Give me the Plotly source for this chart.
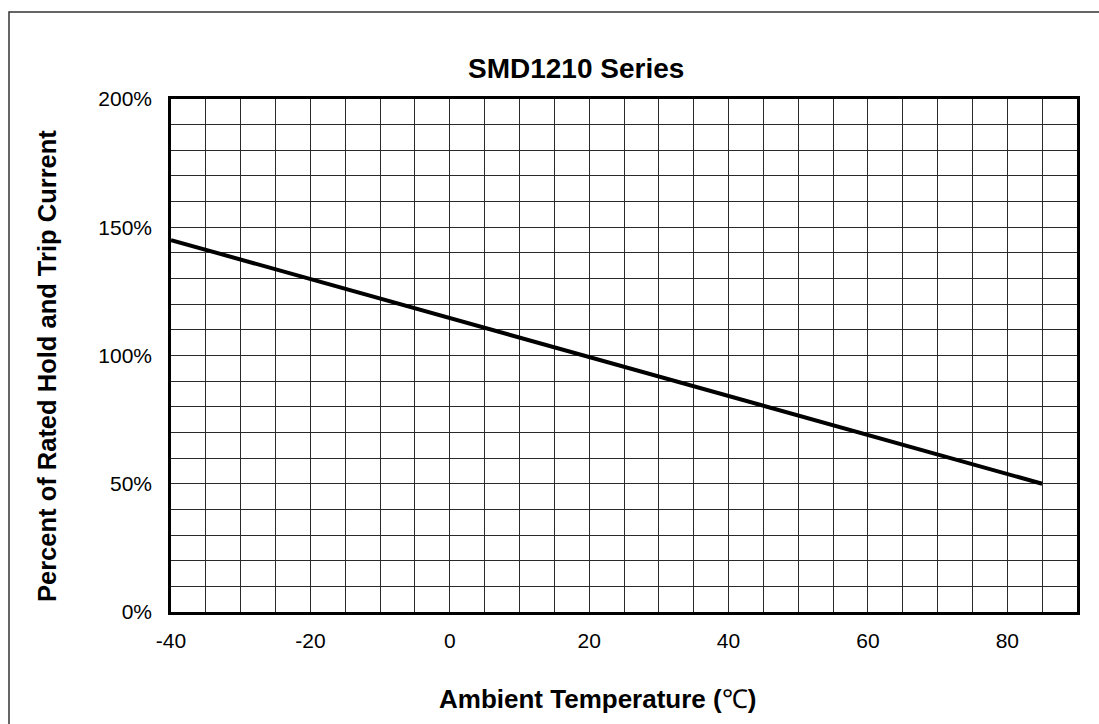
import plotly.graph_objects as go

temps = [-40, 85]
percent = [145, 50]
x_ticks = [-40, -20, 0, 20, 40, 60, 80]
x_tick_labels = ["-40", "-20", "0", "20", "40", "60", "80"]
y_ticks = [0, 50, 100, 150, 200]
y_tick_labels = ["0%", "50%", "100%", "150%", "200%"]

W, H = 1099, 724
L, R, T, B = 171, 1077, 99, 612
pw, ph = R - L, B - T

def px(xp):
    return (xp - L) / pw

def py(yp):
    return (B - yp) / ph

fig = go.Figure()
fig.add_trace(go.Scatter(x=temps, y=percent, mode="lines",
                         line=dict(color="black", width=4), showlegend=False))

font = "Liberation Sans, Arial, sans-serif"
grid = "#2a2a2a"
fig.update_layout(
    width=W, height=H,
    margin=dict(l=L, r=W - R, t=T, b=H - B),
    paper_bgcolor="white", plot_bgcolor="white",
    font=dict(family=font, size=21, color="black"),
    xaxis=dict(range=[-40, 90], tickvals=x_ticks, ticktext=x_tick_labels,
               showgrid=True, gridcolor=grid, gridwidth=1,
               minor=dict(dtick=5, showgrid=True, gridcolor=grid, gridwidth=1),
               showline=True, linecolor="black", linewidth=2.5, mirror=True,
               ticks="", ticklabelstandoff=8, zeroline=False,
               tickfont=dict(size=21)),
    yaxis=dict(range=[0, 200], tickvals=y_ticks, ticktext=y_tick_labels, showgrid=True,
               gridcolor=grid, gridwidth=1,
               minor=dict(dtick=10, showgrid=True, gridcolor=grid, gridwidth=1),
               showline=True, linecolor="black", linewidth=2.5, mirror=True,
               ticks="", ticklabelstandoff=12, zeroline=False,
               tickfont=dict(size=21)),
    shapes=[dict(type="rect", xref="paper", yref="paper",
                 x0=px(9), x1=px(1115), y0=py(745), y1=py(12),
                 line=dict(color="#333", width=1.5), layer="below")],
    annotations=[
        dict(text="<b>SMD1210 Series</b>", xref="paper", yref="paper",
             x=px(576), y=py(69), xanchor="center", yanchor="middle",
             showarrow=False, font=dict(size=28, family=font)),
        dict(text="<b>Percent of Rated Hold and Trip Current</b>", xref="paper", yref="paper",
             x=px(47), y=py(366), xanchor="center", yanchor="middle",
             showarrow=False, textangle=-90, font=dict(size=25.5, family=font)),
        dict(text="<b>Ambient Temperature (</b>℃<b>)</b>", xref="paper", yref="paper",
             x=px(597), y=py(699), xanchor="center", yanchor="middle",
             showarrow=False, font=dict(size=26, family=font)),
    ],
)
fig.write_html("out.html", config={"displayModeBar": False},
               post_script="document.body.style.margin='0';")
